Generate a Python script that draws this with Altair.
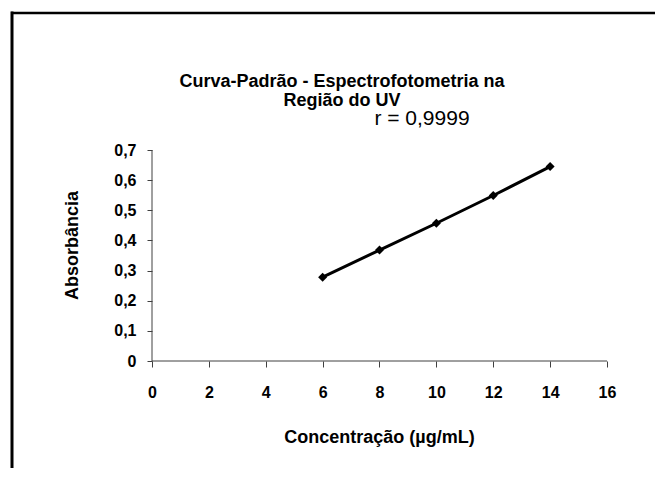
import altair as alt
import pandas as pd

# data
concentration = [6, 8, 10, 12, 14]
absorbance = [0.278, 0.368, 0.457, 0.549, 0.645]
x_ticks = [0, 2, 4, 6, 8, 10, 12, 14, 16]
y_ticks = [0, 0.1, 0.2, 0.3, 0.4, 0.5, 0.6, 0.7]
x_axis_end = [16]
y_axis_end = [0.7]
title_lines = ["Curva-Padrão - Espectrofotometria na", "Região do UV"]
r_label = ["r = 0,9999"]
x_title = "Concentração (µg/mL)"
y_title = "Absorbância"

FONT = "Liberation Sans"
TICK_FS = 16
TITLE_FS = 18

# The plot area reaches just past the top and right edges of the page, so that the
# view outline falls outside; the axes themselves are drawn as rules up to 16 / 0,7.
PX_X = 455 / 16.0      # pixels per x unit
PX_Y = 211 / 0.7       # pixels per y unit
W, H = 505, 355
X_DOMAIN = [0, W / PX_X]
Y_DOMAIN = [0, H / PX_Y]

df = pd.DataFrame({"c": concentration, "a": absorbance})
one = pd.DataFrame({"k": [0]})
xs = alt.Scale(domain=X_DOMAIN, nice=False, zero=False)
ys = alt.Scale(domain=Y_DOMAIN, nice=False, zero=False)

x_axis = alt.Axis(
    values=x_ticks, title=x_title, grid=False, domain=False, labelFlush=False, labelOverlap=False,
    labelFont=FONT, labelFontSize=TICK_FS, labelFontWeight="bold", labelColor="black",
    labelBaseline="middle", labelPadding=25, tickSize=6, tickColor="#404040",
    titleFont=FONT, titleFontSize=TITLE_FS, titleFontWeight="bold", titleColor="black",
    titleX=227, titleY=76, titleBaseline="middle", titleAlign="center",
)
y_axis = alt.Axis(
    values=y_ticks, title=y_title, grid=False, domain=False, labelFlush=False, labelOverlap=False,
    labelExpr="datum.value == 0 ? '0' : replace(format(datum.value, '.1f'), '.', ',')",
    labelFont=FONT, labelFontSize=TICK_FS, labelFontWeight="bold", labelColor="black",
    labelPadding=11, tickSize=5, tickColor="#404040",
    titleFont=FONT, titleFontSize=TITLE_FS, titleFontWeight="bold", titleColor="black",
    titleX=-80, titleY=239, titleAngle=270, titleBaseline="middle", titleAlign="center",
)

x_enc = alt.X("c:Q", scale=xs, axis=x_axis)
y_enc = alt.Y("a:Q", scale=ys, axis=y_axis)

# axis lines
x_line = alt.Chart(one).mark_rule(color="#404040", strokeWidth=1).encode(
    x=alt.X(datum=0, scale=xs, axis=x_axis), x2=alt.X2(datum=x_axis_end[0]),
    y=alt.Y(datum=0, scale=ys, axis=y_axis))
y_line = alt.Chart(one).mark_rule(color="#404040", strokeWidth=1).encode(
    x=alt.X(datum=0, scale=xs, axis=x_axis),
    y=alt.Y(datum=0, scale=ys, axis=y_axis), y2=alt.Y2(datum=y_axis_end[0]))

line = alt.Chart(df).mark_line(color="black", strokeWidth=3).encode(x=x_enc, y=y_enc)
pts = alt.Chart(df).mark_point(shape="diamond", filled=True, color="black", size=80, opacity=1).encode(
    x=x_enc, y=y_enc
)

t1 = alt.Chart(one).mark_text(font=FONT, fontSize=TITLE_FS, fontWeight="bold", color="black",
                              align="center", baseline="middle").encode(
    x=alt.value(190), y=alt.value(76), text=alt.value(title_lines[0]))
t2 = alt.Chart(one).mark_text(font=FONT, fontSize=TITLE_FS, fontWeight="bold", color="black",
                              align="center", baseline="middle").encode(
    x=alt.value(190), y=alt.value(95), text=alt.value(title_lines[1]))
tr = alt.Chart(one).mark_text(font=FONT, fontSize=21, color="black",
                              align="center", baseline="middle").encode(
    x=alt.value(270), y=alt.value(113), text=alt.value(r_label[0]))

frame_top = alt.Chart(one).mark_rule(color="black", strokeWidth=2.5).encode(
    x=alt.value(-141), x2=alt.value(W + 5), y=alt.value(7))
frame_left = alt.Chart(one).mark_rule(color="black", strokeWidth=3).encode(
    x=alt.value(-140), y=alt.value(5.5), y2=alt.value(480))

chart = alt.layer(frame_top, frame_left, x_line, y_line, line, pts, t1, t2, tr).properties(
    width=W, height=H,
    background="white",
    autosize=alt.AutoSizeParams(type="none"),
    padding={"left": 144, "top": -2, "right": -2, "bottom": 107},
).configure_view(stroke=None, strokeWidth=0).configure_axis(grid=False)

chart.save("out.html", embed_options={"renderer": "svg", "actions": False})
